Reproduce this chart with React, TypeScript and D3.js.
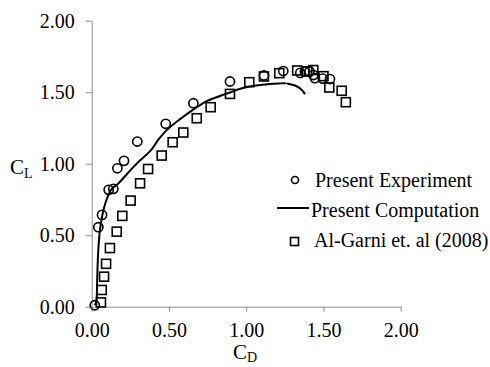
import React, { useEffect, useRef } from "react";
import * as d3 from "d3";

// Present Experiment (circles)
const expCd = [0.02, 0.043, 0.067, 0.11, 0.14, 0.166, 0.209, 0.295, 0.479, 0.658, 0.895, 1.115, 1.24, 1.35, 1.38, 1.41, 1.435, 1.445, 1.495, 1.542];
const expCl = [0.01, 0.556, 0.642, 0.817, 0.824, 0.968, 1.02, 1.155, 1.279, 1.423, 1.575, 1.617, 1.648, 1.635, 1.645, 1.645, 1.62, 1.598, 1.595, 1.592];

// Present Computation (line)
const compCd = [0.021, 0.032, 0.036, 0.043, 0.054, 0.071, 0.097, 0.135, 0.17, 0.23, 0.31, 0.38, 0.44, 0.49, 0.57, 0.66, 0.75, 0.9, 1.0, 1.09, 1.2, 1.26, 1.32, 1.38];
const compCl = [0.01, 0.05, 0.21, 0.4, 0.54, 0.65, 0.75, 0.83, 0.86, 0.93, 1.02, 1.09, 1.18, 1.24, 1.31, 1.38, 1.44, 1.5, 1.535, 1.55, 1.56, 1.565, 1.545, 1.486];

// Al-Garni et. al (2008) (squares)
const garniCd = [0.06, 0.065, 0.08, 0.093, 0.118, 0.162, 0.198, 0.252, 0.313, 0.365, 0.453, 0.524, 0.593, 0.68, 0.77, 0.895, 1.02, 1.115, 1.214, 1.33, 1.395, 1.434, 1.5, 1.538, 1.618, 1.645];
const garniCl = [0.03, 0.117, 0.21, 0.3, 0.41, 0.525, 0.635, 0.742, 0.863, 0.963, 1.057, 1.15, 1.218, 1.318, 1.395, 1.488, 1.57, 1.61, 1.633, 1.652, 1.645, 1.655, 1.612, 1.533, 1.51, 1.43];

const xTicks = [0, 0.5, 1, 1.5, 2];
const yTicks = [0, 0.5, 1, 1.5, 2];
const legendLabels = ["Present Experiment", "Present Computation", "Al-Garni et. al (2008)"];

const font = "Liberation Serif";

const App = () => {
  const ref = useRef<SVGSVGElement>(null);

  useEffect(() => {
    const svg = d3.select(ref.current);
    svg.selectAll("*").remove();

    const x = d3.scaleLinear().domain([0, 2]).range([91.7, 400.7]);
    const y = d3.scaleLinear().domain([0, 2]).range([306.7, 20.7]);

    const xAxis = svg.append("g")
      .attr("transform", `translate(0, ${y(0)})`)
      .call(d3.axisBottom(x).tickValues(xTicks).tickFormat(d3.format(".2f")).tickSize(5).tickSizeOuter(0).tickPadding(11));
    const yAxis = svg.append("g")
      .attr("transform", `translate(${x(0)}, 0)`)
      .call(d3.axisLeft(y).tickValues(yTicks).tickFormat(d3.format(".2f")).tickSize(6).tickSizeOuter(0).tickPadding(11));

    [xAxis, yAxis].forEach((g) => {
      g.attr("font-family", font).attr("font-size", 20);
      g.select(".domain").attr("stroke", "#8c8c8c");
      g.selectAll(".tick line").attr("stroke", "#8c8c8c");
      g.selectAll(".tick text").attr("fill", "#000");
    });

    // axis titles
    const cl = svg.append("text").attr("x", 10).attr("y", 174)
      .attr("font-family", font).attr("font-size", 21);
    cl.append("tspan").text("C");
    cl.append("tspan").attr("dy", 4).attr("font-size", 14).text("L");

    const cdT = svg.append("text").attr("x", 233).attr("y", 359)
      .attr("font-family", font).attr("font-size", 21);
    cdT.append("tspan").text("C");
    cdT.append("tspan").attr("dy", 3).attr("font-size", 14).text("D");

    // computation line
    const line = d3.line<number>()
      .x((d, i) => x(compCd[i]))
      .y((d) => y(d))
      .curve(d3.curveMonotoneY);
    svg.append("path")
      .datum(compCl)
      .attr("fill", "none")
      .attr("stroke", "#000")
      .attr("stroke-width", 2)
      .attr("d", line);

    // circles
    svg.append("g")
      .selectAll("circle")
      .data(expCl)
      .join("circle")
      .attr("cx", (d, i) => x(expCd[i]))
      .attr("cy", (d) => y(d))
      .attr("r", 4.6)
      .attr("fill", "none")
      .attr("stroke", "#000")
      .attr("stroke-width", 1.6);

    // squares
    const s = 9;
    svg.append("g")
      .selectAll("rect")
      .data(garniCl)
      .join("rect")
      .attr("x", (d, i) => x(garniCd[i]) - s / 2)
      .attr("y", (d) => y(d) - s / 2)
      .attr("width", s)
      .attr("height", s)
      .attr("fill", "none")
      .attr("stroke", "#000")
      .attr("stroke-width", 1.6);

    // legend
    const lg = svg.append("g").attr("font-family", font).attr("font-size", 20);
    lg.append("circle").attr("cx", 295).attr("cy", 180).attr("r", 3.5)
      .attr("fill", "none").attr("stroke", "#000").attr("stroke-width", 1.6);
    lg.append("text").attr("x", 315).attr("y", 187).text(legendLabels[0]);
    lg.append("line").attr("x1", 277).attr("x2", 309).attr("y1", 208).attr("y2", 208)
      .attr("stroke", "#000").attr("stroke-width", 2);
    lg.append("text").attr("x", 311).attr("y", 217).text(legendLabels[1]);
    lg.append("rect").attr("x", 290.5).attr("y", 237.5).attr("width", 8).attr("height", 8)
      .attr("fill", "none").attr("stroke", "#000").attr("stroke-width", 1.6);
    lg.append("text").attr("x", 314).attr("y", 247).text(legendLabels[2]);
  });

  return (
    <svg
      ref={ref}
      width={490}
      height={367}
      style={{ position: "absolute", left: 0, top: 0, background: "#fff" }}
    />
  );
};

export default App;
